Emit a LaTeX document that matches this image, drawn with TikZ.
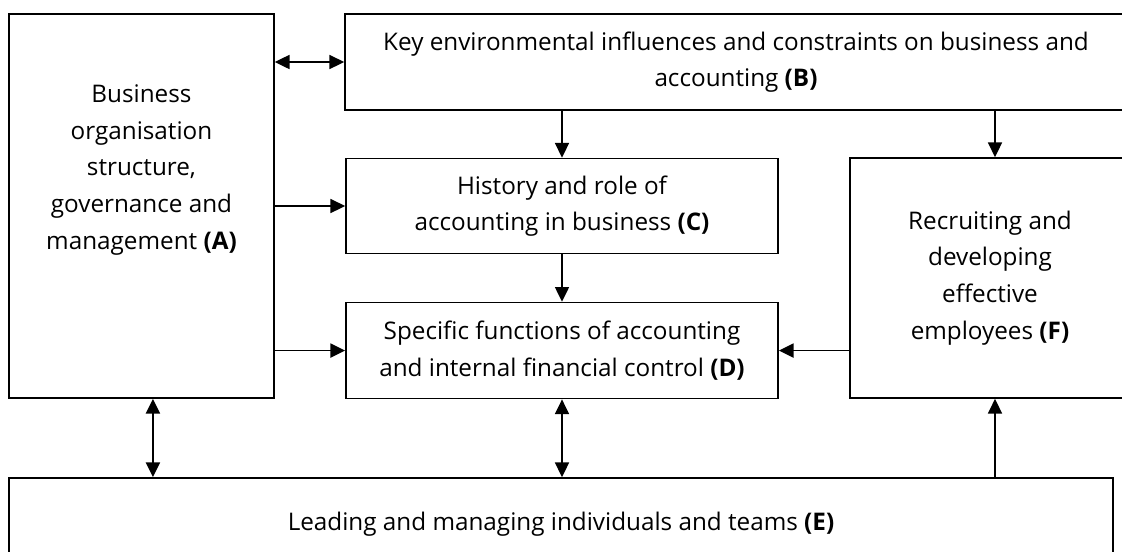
\documentclass[tikz,border=0pt]{standalone}
\usepackage{fontspec}
\setmainfont{Open Sans}
\usepackage{tikz}
\usetikzlibrary{arrows.meta, calc, positioning}
\newcommand{\diagfont}{\fontsize{18.2}{27.5}\selectfont}
\tikzset{
    boxnode/.style = {draw, rectangle, line width=1.3pt, inner sep=0em, node distance=0em, 
      align=center, font=\diagfont},
    textnode/.style = {draw=none, fill=none, rectangle, inner sep=0em, node distance=0em, 
      align=center, font=\diagfont},
    connect/.style = {black, line width=1.3pt, -{Triangle[length=11pt, width=10.5pt]}},
    biconnect/.style = {black, line width=1.3pt, {Triangle[length=11pt, width=10.5pt]}-{Triangle[length=11pt, width=10.5pt]}}
}

\begin{document}
\begin{tikzpicture}
\useasboundingbox (0,0) rectangle (841.5pt,-413.25pt);
\clip (0,0) rectangle (841.5pt,-413.25pt);

\node [boxnode, minimum width=198.75pt, minimum height=288pt, name=A] at (106.1pt,-154.5pt) {}; 
\node [textnode, name=Atext, right of=A, yshift=27pt] {Business\\organisation\\structure,\\governance and\\management \textbf{(A)}}; 
\node [boxnode, minimum width=586.5pt, minimum height=72pt, name=B, right of=A, xshift=445.9pt, yshift=108pt] 
  {Key environmental influences and constraints on business and\\accounting \textbf{(B)}}; 
\node [boxnode, minimum width=324pt, minimum height=71.25pt, name=C, right of=A, xshift=315.4pt] 
  {History and role of\\accounting in business \textbf{(C)}}; 
\node [boxnode, minimum width=324pt, minimum height=72pt, name=D, below of=C, yshift=-108.4pt] 
  {Specific functions of accounting\\and internal financial control \textbf{(D)}}; 
\node [boxnode, minimum width=210pt, minimum height=180pt, name=F, right of=A, xshift=636.4pt, yshift=-54pt] 
  {Recruiting and\\developing\\effective\\employees \textbf{(F)}}; 
\node [boxnode, minimum width=828pt, minimum height=69pt, name=E, right of=A, xshift=314.65pt, yshift=-238.5pt] 
  {Leading and managing individuals and teams \textbf{(E)}}; 

\draw [biconnect] (A.east |- B.west) -- (B.west); 
\draw [connect] (A.east |- C.west) -- (C.west); 
\draw [connect] (A.east |- D.west) -- (D.west); 
\draw [connect] (B.south -| C.north) -- (C.north); 
\draw [connect] ([xshift=3.75pt]B.south -| F.north) -- ([xshift=3.75pt]F.north); 
\draw [connect] (C.south) -- (D.north); 
\draw [connect] (F.west |- D.east) -- (D.east); 
\draw [biconnect] ([xshift=8.6pt]A.south) -- ([xshift=8.6pt]A.south |- E.north); 
\draw [biconnect] (D.south) -- (D.south |- E.north); 
\draw [connect] ([xshift=3.75pt]F.south |- E.north) -- ([xshift=3.75pt]F.south); 
\end{tikzpicture}
\end{document}
